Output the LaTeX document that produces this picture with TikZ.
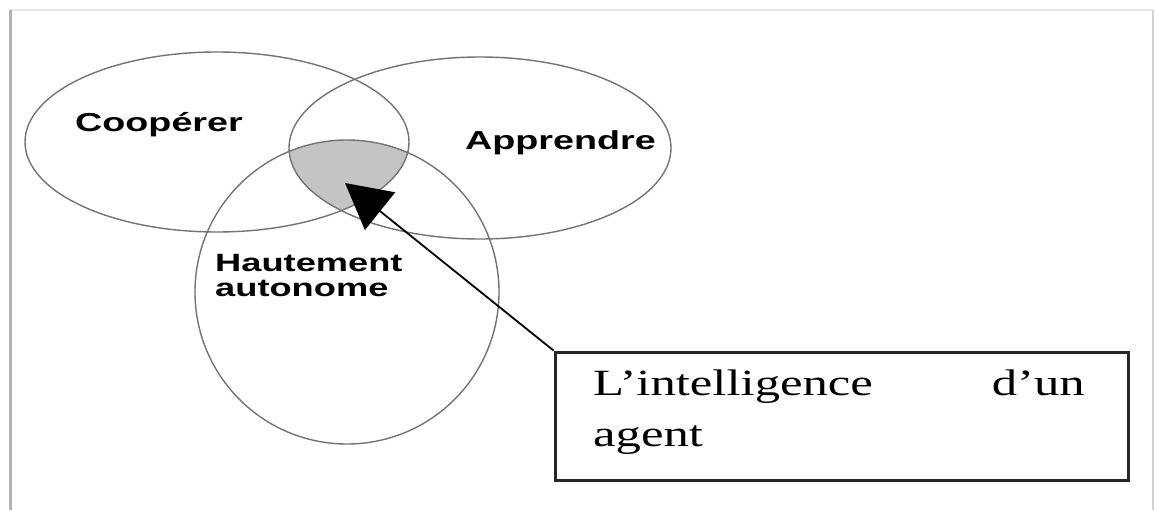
\documentclass[tikz,border=0pt]{standalone}
\usepackage{fontspec}
\setmainfont{Liberation Serif}
\newfontfamily\sanslabel{Liberation Sans}
\usepackage{graphicx}
\usetikzlibrary{arrows.meta}
\tikzset{
  setline/.style={draw=black!55, line width=1.4pt},
  corefill/.style={fill=black!23},
  setlabel/.style={anchor=base west, inner sep=0pt, font=\sanslabel\bfseries\fontsize{26}{26}\selectfont},
  boxtext/.style={inner sep=0pt, font=\fontsize{37}{37}\selectfont},
  notebox/.style={draw=black!85, line width=3pt, minimum width=573pt, minimum height=128pt, inner sep=0pt},
  pointer/.style={draw=black, line width=1.8pt, -{Triangle[length=45pt,width=48pt]}},
}
% labels are set wide, as in the printed figure
\newcommand{\widetext}[1]{\scalebox{1.45}[1]{#1}}
\newcommand{\widebox}[1]{\scalebox{1.37}[1]{#1}}
\begin{document}
\begin{tikzpicture}[x=1pt,y=-1pt]
\useasboundingbox (0,0) rectangle (1155,510);
\fill[white] (0,0) rectangle (1155,510);
% page frame
\draw[black!10, line width=1.5pt] (10,10) -- (1153,10);
\draw[black!30, line width=3pt] (10,10) -- (10,512);
\draw[black!18, line width=2pt] (1153,10) -- (1153,512);
% common part of the three sets
\begin{scope}
  \clip (217,142) ellipse [x radius=192, y radius=90];
  \clip (480,148) ellipse [x radius=191, y radius=91];
  \fill[corefill] (347,292) circle [radius=152];
\end{scope}
% the three sets
\draw[setline] (217,142) ellipse [x radius=192, y radius=90];
\draw[setline] (480,148) ellipse [x radius=191, y radius=91];
\draw[setline] (347,292) circle [radius=152];
% set names
\node[setlabel] (coop) at (75,132) {\widetext{Coopérer}};
\node[setlabel] (appr) at (465,150) {\widetext{Apprendre}};
\node[setlabel, font=\sanslabel\bfseries\fontsize{25}{25}\selectfont] (auto) at (215,272)
  {\widetext{\begin{tabular}[t]{@{}l@{}}Hautement\\autonome\end{tabular}}};
% caption box
\node[notebox] (note) at (841.5,416) {};
\node[boxtext, anchor=base west] (line1a) at (593,395) {\widebox{L’intelligence}};
\node[boxtext, anchor=base east] (line1b) at (1085,395) {\widebox{d’un}};
\node[boxtext, anchor=base west] (line2) at (593,446) {\widebox{agent}};
% pointer to the common part
\coordinate (core) at (345,183);
\draw[pointer] (note.north west) -- (core);
\end{tikzpicture}
\end{document}
